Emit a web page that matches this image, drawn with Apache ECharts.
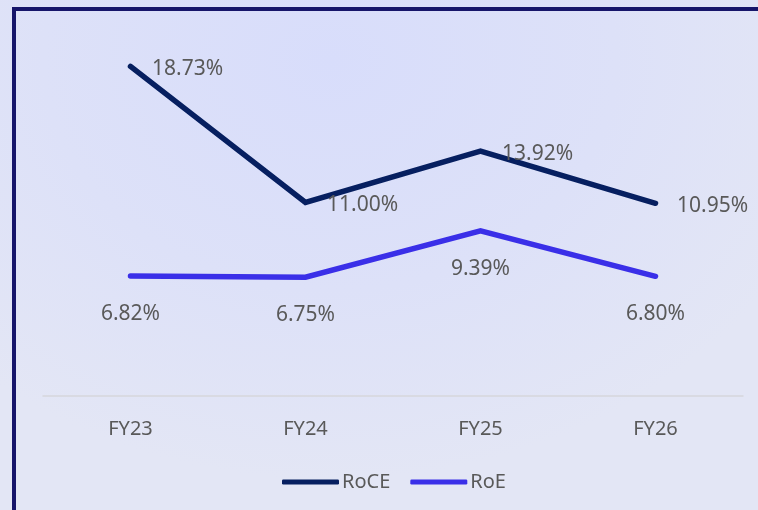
<!DOCTYPE html>
<html>
<head>
<meta charset="utf-8">
<script src="https://cdn.jsdelivr.net/npm/echarts@6/dist/echarts.min.js"></script>
<style>
  html, body { margin: 0; padding: 0; width: 758px; height: 510px; overflow: hidden; }
  body { background: radial-gradient(ellipse 520px 420px at 330px 60px, #d8ddfb 0%, #dde1f8 55%, #e3e6f5 100%); }
  #frame { position: absolute; left: 12px; top: 7px; width: 800px; height: 600px; border-left: 4.5px solid #16156a; border-top: 4.5px solid #16156a; box-sizing: border-box; }
  #chart { position: absolute; left: 0; top: 0; width: 758px; height: 510px; }
</style>
</head>
<body>
<div id="frame"></div>
<div id="chart"></div>
<script>
const categories = ['FY23', 'FY24', 'FY25', 'FY26'];
const roce = [18.73, 11.00, 13.92, 10.95];
const roe = [6.82, 6.75, 9.39, 6.80];
const seriesNames = ['RoCE', 'RoE'];
const seriesColors = ['#061f60', '#3a2fe8'];

const textColor = '#595959';
const font = '"Noto Sans", "Open Sans", sans-serif';

const chart = echarts.init(document.getElementById('chart'), null, { renderer: 'canvas' });
chart.setOption({
  backgroundColor: 'transparent',
  animation: false,
  grid: { left: 43, right: 15, top: 44, bottom: 114 },
  xAxis: {
    type: 'category',
    data: categories,
    boundaryGap: true,
    axisLine: { show: true, lineStyle: { color: '#d6d6dc', width: 1.5 } },
    axisTick: { show: false },
    axisLabel: { color: textColor, fontSize: 20, fontFamily: font, margin: 23 }
  },
  yAxis: {
    type: 'value',
    min: 0, max: 20, interval: 5,
    show: false,
    splitLine: { show: false }
  },
  legend: {
    data: seriesNames.map((n, i) => ({ name: n, icon: 'roundRect', itemStyle: { color: seriesColors[i], opacity: 1 } })),
    bottom: 13,
    left: 277,
    itemWidth: 57,
    itemHeight: 5,
    itemGap: 20,
    textStyle: { color: textColor, fontSize: 20, fontFamily: font, padding: [0, 0, 0, -2] }
  },
  series: seriesNames.map((n, i) => ({
    name: n,
    type: 'line',
    data: i === 0 ? roce : roe,
    symbol: 'circle',
    symbolSize: 1,
    showSymbol: true,
    itemStyle: { color: 'transparent', borderWidth: 0 },
    lineStyle: { color: seriesColors[i], width: 5.5, cap: 'round', join: 'miter' },
    label: {
      show: true,
      position: i === 0 ? 'right' : 'bottom',
      distance: i === 0 ? 21 : 27,
      offset: i === 0 ? [0, 3] : [0, 0],
      color: textColor,
      fontSize: 21,
      fontFamily: font,
      formatter: p => p.value.toFixed(2) + '%'
    }
  }))
});
</script>
</body>
</html>
